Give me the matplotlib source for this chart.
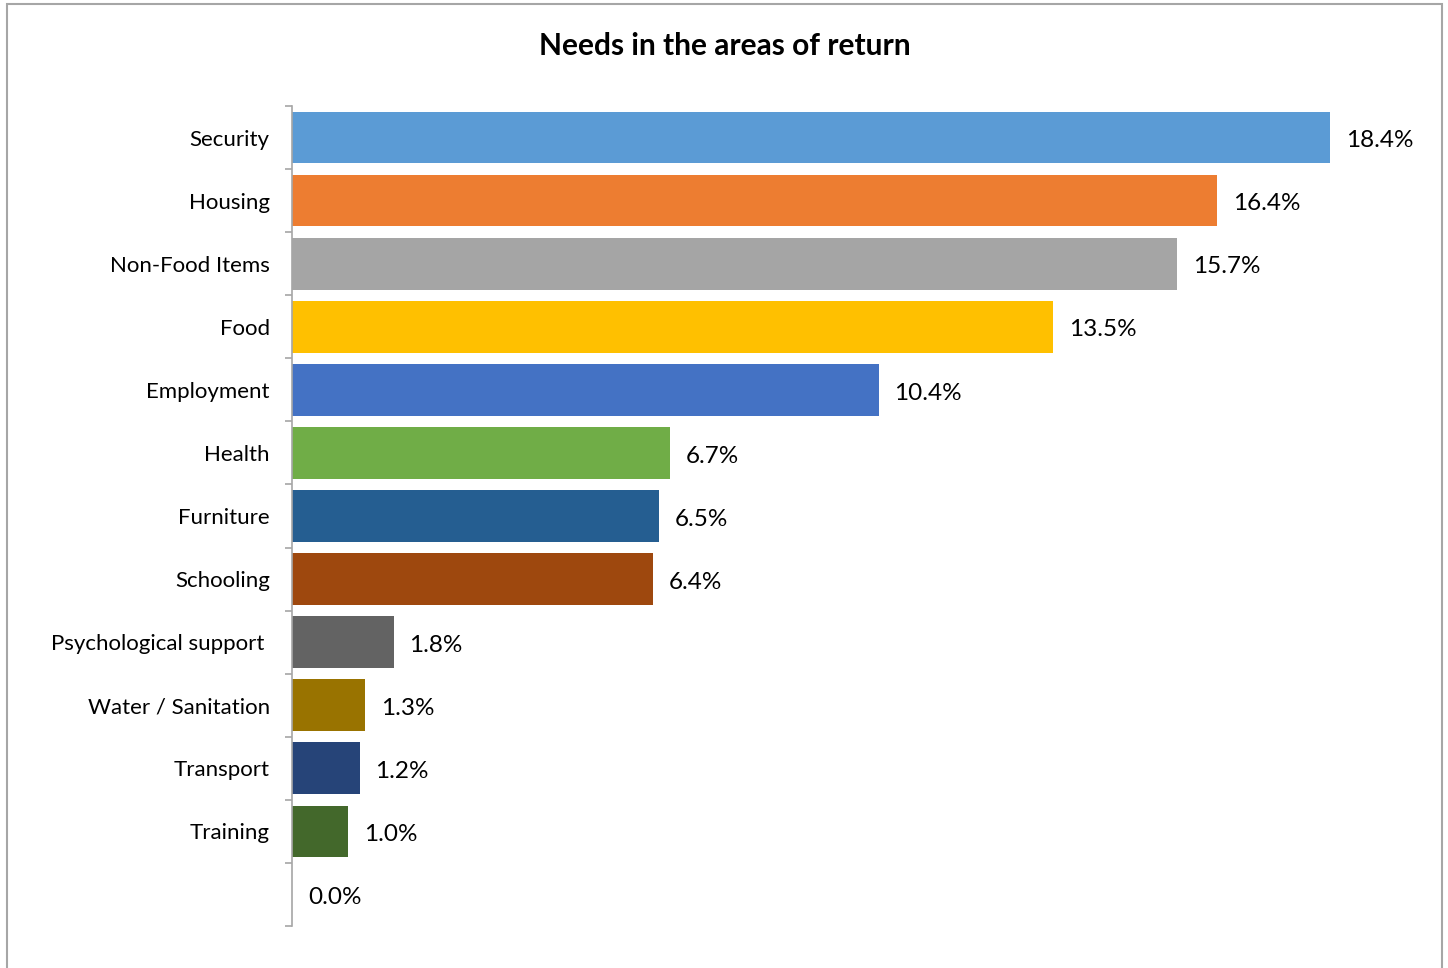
import matplotlib
matplotlib.use("Agg")
import matplotlib.pyplot as plt
from matplotlib.patches import Rectangle
import numpy as np

categories = ["Security", "Housing", "Non-Food Items", "Food", "Employment",
              "Health", "Furniture", "Schooling", "Psychological support ",
              "Water / Sanitation", "Transport", "Training", ""]
values = [18.4, 16.4, 15.7, 13.5, 10.4, 6.7, 6.5, 6.4, 1.8, 1.3, 1.2, 1.0, 0.0]
colors = ["#5B9BD5", "#ED7D31", "#A5A5A5", "#FFC000", "#4472C4", "#70AD47",
          "#255E91", "#9E480E", "#636363", "#997300", "#264478", "#43682B",
          "#5B9BD5"]

plt.rcParams["font.family"] = ["Lato", "DejaVu Sans"]

fig = plt.figure(figsize=(14.48, 9.68), dpi=100)
W, H = 1448, 968

# outer chart border
fig.add_artist(Rectangle((7 / W, -0.05), (1442 - 7) / W, (H - 4) / H + 0.05,
                         transform=fig.transFigure, fill=False,
                         edgecolor="#A6A6A6", linewidth=1.5))

ax = fig.add_axes([292 / W, 1 - 926 / H, (1420 - 292) / W, 820 / H])
n = len(categories)
y = np.arange(n)
ax.barh(y, values, height=0.82, color=colors, zorder=2)
ax.set_ylim(n - 0.5, -0.5)
ax.set_xlim(0, 20)

for yi, v in zip(y, values):
    ax.text(v + 0.28, yi + 0.05, f"{v:.1f}%", va="center", ha="left",
            fontsize=17.5, color="#000000")

ax.set_yticks(y)
ax.set_yticklabels(categories, fontsize=16)
ax.tick_params(axis="y", which="major", length=0, pad=16)
ax.set_yticks(np.arange(n + 1) - 0.5, minor=True)
ax.tick_params(axis="y", which="minor", length=5, color="#A6A6A6", width=1.2)
ax.set_xticks([])

for s in ["top", "right", "bottom"]:
    ax.spines[s].set_visible(False)
ax.spines["left"].set_color("#A6A6A6")
ax.spines["left"].set_linewidth(1.2)

fig.text(725 / W, 1 - 46 / H, "Needs in the areas of return", ha="center",
         va="center", fontsize=21.5, fontweight="bold")

fig.savefig("out.png", dpi=100)
